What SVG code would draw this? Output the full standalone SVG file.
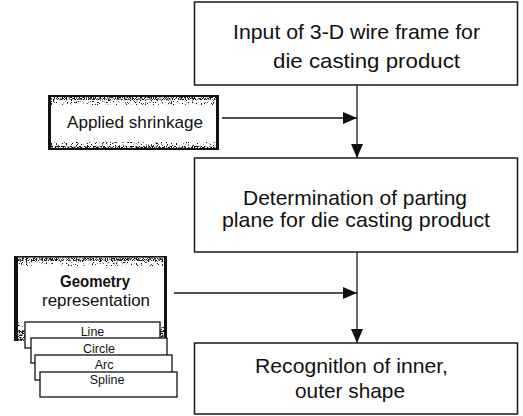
<svg xmlns="http://www.w3.org/2000/svg" width="523" height="416" viewBox="0 0 523 416">
  <style>
    .box { fill: #fff; stroke: #1a1a1a; stroke-width: 1.5; }
    .tab { fill: #fff; stroke: #111; stroke-width: 1.3; }
    .t { font-family: "Liberation Sans", Arial, sans-serif; fill: #111; }
    .big { font-size: 21px; }
    .mid { font-size: 17px; }
    .small { font-size: 12.5px; }
    .conn { stroke: #1a1a1a; stroke-width: 1.3; fill: none; }
    .ink { fill: #111; }
  </style>
  <defs>
    <!-- halftone grain used for the scanned dark bands -->
    <filter id="grainDense" x="0" y="0" width="1" height="1">
      <feTurbulence type="fractalNoise" baseFrequency="0.9" numOctaves="2" seed="4" result="n"/>
      <feColorMatrix in="n" type="matrix" values="0 0 0 0 0  0 0 0 0 0  0 0 0 0 0  9 0 0 0 -4.0" result="s"/>
      <feComposite in="SourceGraphic" in2="s" operator="in"/>
    </filter>
    <filter id="grainSparse" x="0" y="0" width="1" height="1">
      <feTurbulence type="fractalNoise" baseFrequency="0.8" numOctaves="2" seed="9" result="n"/>
      <feColorMatrix in="n" type="matrix" values="0 0 0 0 0  0 0 0 0 0  0 0 0 0 0  10 0 0 0 -6.0" result="s"/>
      <feComposite in="SourceGraphic" in2="s" operator="in"/>
    </filter>
    <marker id="arrow" viewBox="0 0 14 12" refX="14" refY="6" markerWidth="14" markerHeight="12" markerUnits="userSpaceOnUse" orient="auto">
      <path d="M0,0 L14,6 L0,12 Z" fill="#111"/>
    </marker>
  </defs>

  <!-- process boxes -->
  <g id="input-wireframe">
    <rect class="box" x="194.5" y="2" width="323" height="83"/>
    <text class="t big" x="233" y="39" textLength="247" lengthAdjust="spacingAndGlyphs">Input of 3-D wire frame for</text>
    <text class="t big" x="273" y="68" textLength="187" lengthAdjust="spacingAndGlyphs">die casting product</text>
  </g>

  <g id="parting-plane">
    <rect class="box" x="194.5" y="158" width="323" height="94"/>
    <text class="t big" x="243" y="205" textLength="224" lengthAdjust="spacingAndGlyphs">Determination of parting</text>
    <text class="t big" x="222" y="227" textLength="268" lengthAdjust="spacingAndGlyphs">plane for die casting product</text>
  </g>

  <g id="shape-recognition">
    <rect class="box" x="194.5" y="343" width="323" height="71"/>
    <text class="t big" x="255" y="373" textLength="193" lengthAdjust="spacingAndGlyphs">Recognitlon of inner,</text>
    <text class="t big" x="295" y="398" textLength="110" lengthAdjust="spacingAndGlyphs">outer shape</text>
  </g>

  <!-- input boxes with grainy dark frames -->
  <g id="applied-shrinkage">
    <rect x="48" y="95" width="171" height="55" fill="#fff"/>
    <rect x="48" y="95" width="171" height="2" class="ink"/>
    <rect x="48" y="97" width="171" height="3" class="ink" filter="url(#grainDense)"/>
    <rect x="48" y="100" width="171" height="5" class="ink" filter="url(#grainSparse)"/>
    <rect x="48" y="142" width="171" height="4" class="ink" filter="url(#grainSparse)"/>
    <rect x="48" y="146" width="171" height="2" class="ink" filter="url(#grainDense)"/>
    <rect x="48" y="148" width="171" height="2" class="ink"/>
    <rect x="48" y="95" width="3" height="55" class="ink"/>
    <rect x="216" y="95" width="3" height="55" class="ink"/>
    <text class="t mid" x="67" y="128" textLength="136" lengthAdjust="spacingAndGlyphs">Applied shrinkage</text>
  </g>

  <g id="geometry-representation">
    <rect x="14" y="256" width="153" height="85" fill="#fff"/>
    <rect x="14" y="256" width="153" height="1.5" class="ink"/>
    <rect x="14" y="257.5" width="153" height="3.5" class="ink" filter="url(#grainDense)"/>
    <rect x="14" y="261" width="153" height="5" class="ink" filter="url(#grainSparse)"/>
    <rect x="14" y="322" width="153" height="8" class="ink" filter="url(#grainSparse)"/>
    <rect x="14" y="330" width="153" height="11" class="ink" filter="url(#grainDense)"/>
    <rect x="14" y="256" width="4" height="85" class="ink"/>
    <rect x="164" y="256" width="3" height="85" class="ink"/>
    <text class="t mid" x="60" y="287" font-weight="bold" textLength="70" lengthAdjust="spacingAndGlyphs">Geometry</text>
    <text class="t mid" x="42" y="306" textLength="108" lengthAdjust="spacingAndGlyphs">representation</text>
  </g>

  <g id="tab-line">
    <rect class="tab" x="25" y="322" width="135" height="26"/>
    <text class="t small" x="92.5" y="336" text-anchor="middle">Line</text>
  </g>
  <g id="tab-circle">
    <rect class="tab" x="31" y="338" width="136" height="25"/>
    <text class="t small" x="99" y="353" text-anchor="middle">Circle</text>
  </g>
  <g id="tab-arc">
    <rect class="tab" x="35" y="355" width="137" height="25"/>
    <text class="t small" x="104" y="369" text-anchor="middle">Arc</text>
  </g>
  <g id="tab-spline">
    <rect class="tab" x="40" y="372" width="137" height="25"/>
    <text class="t small" x="107" y="384" text-anchor="middle">Spline</text>
  </g>

  <!-- connectors -->
  <g id="connectors">
    <line class="conn" x1="357" y1="85" x2="357" y2="158" marker-end="url(#arrow)"/>
    <line class="conn" x1="222" y1="118" x2="357" y2="118" marker-end="url(#arrow)"/>
    <line class="conn" x1="357" y1="252" x2="357" y2="343" marker-end="url(#arrow)"/>
    <line class="conn" x1="174" y1="293" x2="357" y2="293" marker-end="url(#arrow)"/>
  </g>
</svg>
